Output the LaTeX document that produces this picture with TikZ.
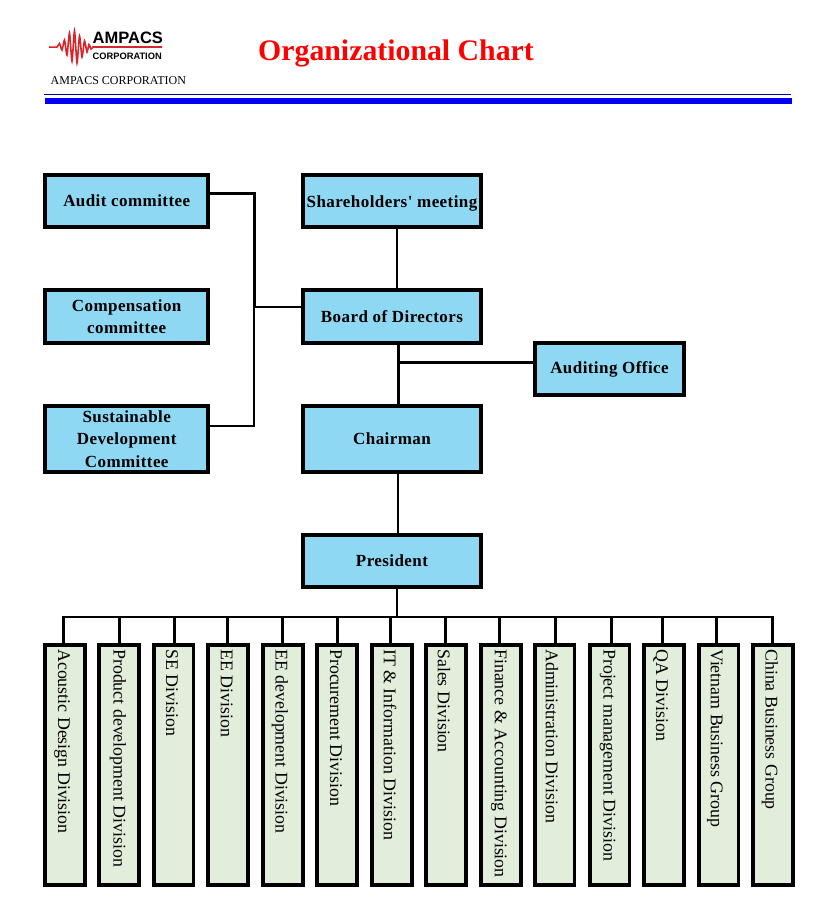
\documentclass[tikz,border=0pt]{standalone}
\usepackage{fontspec}
\setmainfont[Ligatures=TeXOff]{Liberation Serif}
\newfontfamily\logofont{Liberation Sans}

\definecolor{boxblue}{HTML}{8FD8F3}
\definecolor{boxgreen}{HTML}{E2EEDB}
\definecolor{logored}{HTML}{D8262C}

\tikzset{
	orgbox/.style={
		rectangle
		, draw=black
		, fill=boxblue
		, line width=3.6pt
		, align=center
		, inner sep=0pt
		, minimum width=178.5pt
		, minimum height=52pt
		, font=\bfseries\fontsize{17}{22.3}\selectfont\addfontfeature{LetterSpace=2.5}
	}
	, sidebox/.style={
		orgbox
		, minimum width=163pt
	}
	, divbox/.style={
		rectangle
		, draw=black
		, fill=boxgreen
		, line width=3.6pt
		, minimum width=39.8pt
		, minimum height=240pt
	}
	, divlabel/.style={
		rotate=-90
		, anchor=west
		, inner sep=0pt
		, font=\fontsize{17.85}{17.85}\selectfont
	}
	, heavywire/.style={line width=3pt}
	, lightwire/.style={line width=2pt}
}

\begin{document}
\begin{tikzpicture}[x=1pt, y=-1pt]

\useasboundingbox (0,0) rectangle (835,916);

% page head
\draw[logored, line width=1.6pt] plot[smooth, tension=0.4] coordinates {
	(49,47) (57,47) (59.5,43.5) (62,50) (64.5,40) (67,55) (69.5,33) (72,61)
	(74.5,31) (77,63) (79.5,36) (82,57) (84.5,41) (87,52) (89,44.5) (91,49) (93,47)
} -- (162,47);
\node[anchor=base west, inner sep=0pt, font=\logofont\bfseries\fontsize{16.5}{16.5}\selectfont](logoname) at(92.5,43) {AMPACS};
\node[anchor=base west, inner sep=0pt, font=\logofont\bfseries\fontsize{9.3}{9.3}\selectfont](logosub) at(92.5,59) {CORPORATION};
\node[anchor=base west, inner sep=0pt, font=\fontsize{12}{12}\selectfont](company) at(50.5,84) {AMPACS CORPORATION};
\node[anchor=base west, inner sep=0pt, text=red, font=\bfseries\fontsize{29.8}{29.8}\selectfont](title) at(258,60) {Organizational Chart};
\fill[blue!60!black] (44,93.8) rectangle (791,94.8);
\fill[blue!95!black] (45,98) rectangle (792,104);

% blue boxes
\node[sidebox](audit) at(126.7,201.2) {Audit committee};
\node[sidebox, minimum height=53pt](comp) at(126.7,316.7) {Compensation\\committee};
\node[sidebox, minimum height=66pt](sustain) at(126.7,439) {Sustainable\\Development\\Committee};
\node[orgbox, text depth=0pt](holders) at(392,201.2) {Shareholders' meeting};
\node[orgbox, minimum height=53pt](board) at(392,316.7) {Board of Directors};
\node[orgbox, minimum height=66pt](chairman) at(392,439) {Chairman};
\node[orgbox, minimum width=149pt](office) at(609.5,369.2) {Auditing Office};
\node[orgbox](president) at(392,560.7) {President};

% joints
\coordinate (sidejoin) at(254,307);
\coordinate (officejoin) at(398.7,362.7);
\coordinate (busjoin) at(397,617);

\draw[heavywire] ([yshift=7.5pt]audit.east) -| (sidejoin);
\draw[lightwire] ([yshift=13.3pt]sustain.east) -| (sidejoin);
\draw[lightwire] (sidejoin) -- (sidejoin -| board.west);
\draw[lightwire] ([xshift=5pt]holders.south) -- ([xshift=5pt]board.north);
\draw[heavywire] ([xshift=6.7pt]board.south) -- ([xshift=6.7pt]chairman.north);
\draw[heavywire] (officejoin) -- (officejoin -| office.west);
\draw[lightwire] ([xshift=6pt]chairman.south) -- ([xshift=6pt]president.north);
\draw[lightwire] ([xshift=5pt]president.south) -- (busjoin);

% division boxes
\foreach [count=\i] \x/\sx/\tx/\name in {
	65/63.3/62/Acoustic Design Division
	, 119/119/118/Product development Division
	, 173.7/174.7/172/SE Division
	, 228/227.7/226.7/EE Division
	, 283/282.3/280/EE development Division
	, 337/337.7/336/Procurement Division
	, 392/390.3/390/IT \& Information Division
	, 446/445/444/Sales Division
	, 501/499.3/499/Finance \& Accounting Division
	, 554.7/555/552/Administration Division
	, 609.7/611/607.7/Project management Division
	, 664/662.7/660.7/QA Division
	, 718.7/716.3/715/Vietnam Business Group
	, 773/772/770/China Business Group
}{
	\node[divbox](div\i) at(\x,765) {};
	\node[divlabel](divtext\i) at(\tx,649) {\name};
	\coordinate (stem\i) at(\sx,617);
	\draw[heavywire] (stem\i) -- (stem\i |- div\i.north);
}
\draw[line width=2.5pt] ([xshift=-1.5pt]stem1) -- ([xshift=1.5pt]stem14);

\end{tikzpicture}
\end{document}
